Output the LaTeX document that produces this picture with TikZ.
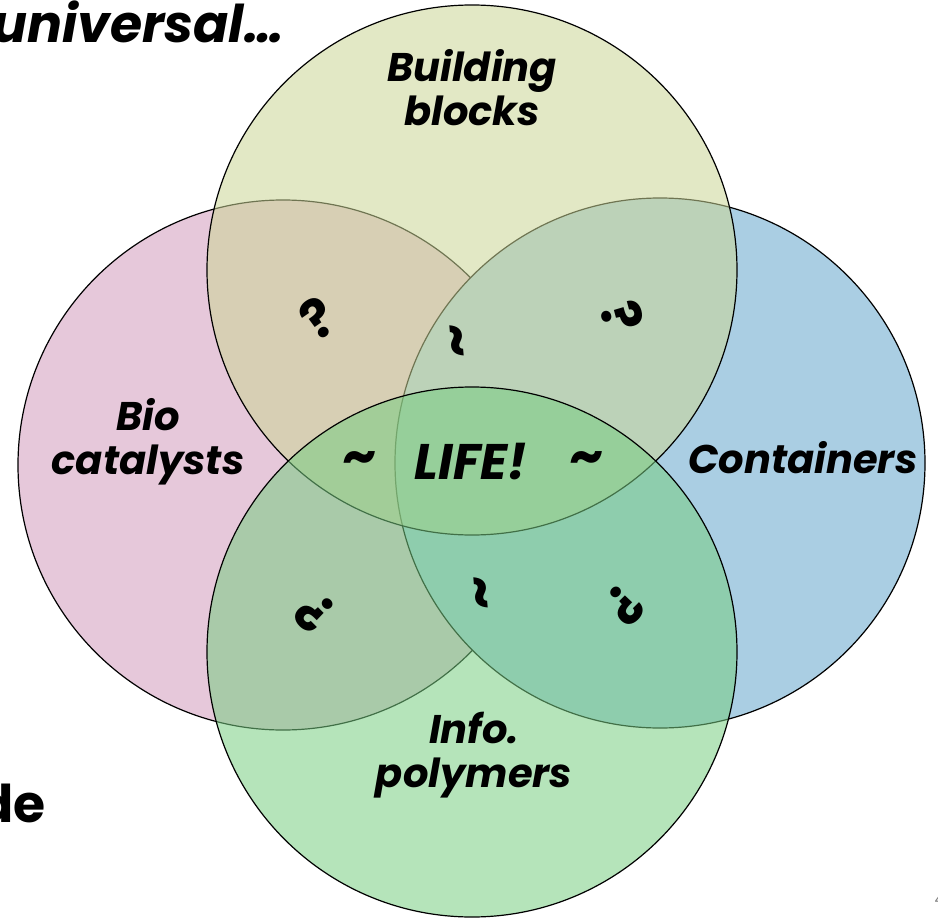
\documentclass[tikz,border=0pt]{standalone}
\usepackage{fontspec}
\setmainfont{Poppins}
\definecolor{bioPink}{RGB}{230,200,218}
\definecolor{contBlue}{RGB}{170,206,227}
\definecolor{buildYellow}{RGB}{203,214,150}
\definecolor{infoGreen}{RGB}{120,205,130}
\tikzset{
  venn/.style={draw=black, line width=1.2pt},
  see/.style={fill opacity=0.55, draw opacity=1},
  setlbl/.style={font=\fontsize{40}{44}\selectfont\bfseries\itshape, align=center, inner sep=0pt},
  qmark/.style={font=\fontsize{54}{54}\selectfont\bfseries, inner sep=0pt},
  slide/.style={font=\fontsize{52}{56}\selectfont\bfseries, inner sep=0pt}
}
\begin{document}
\begin{tikzpicture}[x=1pt, y=-1pt, line join=round, line cap=round]
	\def\r{265}
	\useasboundingbox (0,0) rectangle (938,918);
	% the four sets
	\filldraw[venn, fill=bioPink] (283,465) circle (\r);
	\filldraw[venn, fill=contBlue] (660,463) circle (\r);
	\filldraw[venn, see, fill=buildYellow] (472,270) circle (\r);
	\filldraw[venn, see, fill=infoGreen] (472,652) circle (\r);
	% set names
	\node[setlbl] (build) at (472,88) {Building\\blocks};
	\node[setlbl] (bio) at (148,442) {Bio\\catalysts};
	\node[setlbl, anchor=west] (cont) at (688,458) {Containers};
	\node[setlbl] (info) at (474,755) {Info.\\polymers};
	\node[font=\fontsize{50}{50}\selectfont\bfseries\itshape, inner sep=0pt] (life) at (471,462) {LIFE!};
	% overlaps
	\node[qmark] (tl) at (360,463) {\~{}};
	\node[qmark] (tr) at (587,463) {\~{}};
	\node[qmark, rotate=35] (qbb) at (318,318) {?};
	\node[qmark, rotate=-75] (qbc) at (622,316) {?};
	\node[qmark, rotate=135] (qbi) at (314,612) {?};
	\node[qmark, rotate=-135] (qci) at (624,606) {?};
	\node[qmark, rotate=95] (top) at (463,340) {\~{}};
	\node[qmark, rotate=95] (bot) at (487,592) {\~{}};
	% slide text cut off at the edges
	\node[slide, anchor=base west] (univ) at (-8,42) {\itshape universal\ldots};
	\node[slide, anchor=base east] (de) at (46,822) {de};
	\node[font=\fontsize{14}{14}\selectfont, text=gray, anchor=base west] (num) at (931,904) {4};
\end{tikzpicture}
\end{document}
